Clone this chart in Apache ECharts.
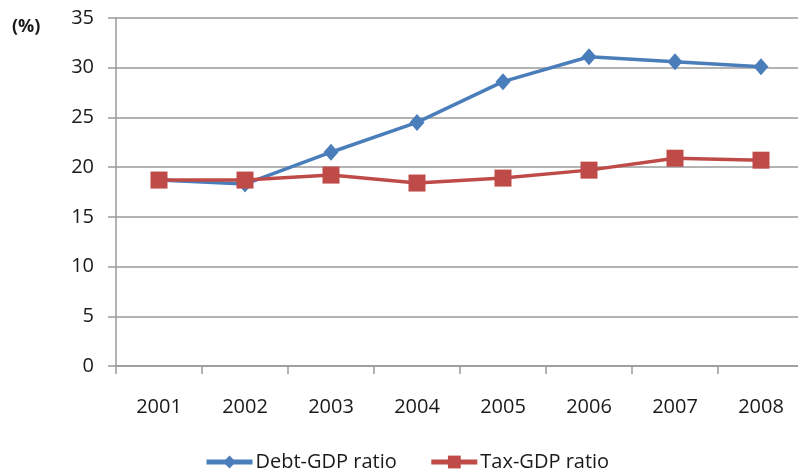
<!DOCTYPE html>
<html>
<head>
<meta charset="utf-8">
<style>
  html, body { margin: 0; padding: 0; background: #fff; }
  #chart { width: 798px; height: 476px; }
</style>
<script src="https://cdn.jsdelivr.net/npm/echarts@6/dist/echarts.min.js"></script>
</head>
<body>
<div id="chart"></div>
<script>
// Years on the horizontal axis
var years = ['2001', '2002', '2003', '2004', '2005', '2006', '2007', '2008'];
// Ratios in percent of GDP
var debtGdp = [18.7, 18.3, 21.5, 24.5, 28.6, 31.1, 30.6, 30.1];
var taxGdp = [18.7, 18.7, 19.2, 18.4, 18.9, 19.7, 20.9, 20.7];

var FONT = '"Open Sans", "DejaVu Sans", sans-serif';
var TEXT = '#1a1a1a';
var AXIS_GRAY = '#9a9a9a';
var BLUE = '#4a7ebb';
var RED = '#be4b48';

var chart = echarts.init(document.getElementById('chart'), null, { renderer: 'canvas' });
chart.setOption({
  animation: false,
  backgroundColor: '#ffffff',
  // plot area runs slightly past the right edge of the canvas
  grid: { left: 116, width: 688, top: 18, bottom: 110, outerBoundsMode: 'none' },
  graphic: [{
    type: 'text', left: 12, top: 18,
    style: { text: '(%)', font: 'bold 18px ' + FONT, fill: TEXT }
  }],
  legend: {
    bottom: -1,
    left: 199,
    itemWidth: 46,
    itemHeight: 16,
    itemGap: 32,
    lineStyle: { width: 5 },
    textStyle: { fontFamily: FONT, fontSize: 20, color: TEXT, padding: [0, 0, 0, -2] },
    data: ['Debt-GDP ratio', 'Tax-GDP ratio']
  },
  xAxis: {
    type: 'category',
    data: years,
    boundaryGap: true,
    axisLine: { lineStyle: { color: AXIS_GRAY, width: 1.5 } },
    axisTick: { show: true, length: 8, lineStyle: { color: AXIS_GRAY, width: 1.5 } },
    axisLabel: { margin: 31, fontFamily: FONT, fontSize: 20, color: TEXT },
    splitLine: { show: false }
  },
  yAxis: {
    type: 'value',
    min: 0, max: 35, interval: 5,
    axisLine: { show: true, lineStyle: { color: AXIS_GRAY, width: 1.5 } },
    axisTick: { show: true, length: 8, lineStyle: { color: AXIS_GRAY, width: 1.5 } },
    axisLabel: { margin: 22, fontFamily: FONT, fontSize: 20, color: TEXT },
    splitLine: { show: true, lineStyle: { color: AXIS_GRAY, width: 1.5 } }
  },
  series: [
    {
      name: 'Debt-GDP ratio',
      type: 'line',
      data: debtGdp,
      symbol: 'diamond',
      symbolSize: [15, 17],
      lineStyle: { color: BLUE, width: 3.5 },
      itemStyle: { color: BLUE },
      z: 2
    },
    {
      name: 'Tax-GDP ratio',
      type: 'line',
      data: taxGdp,
      symbol: 'rect',
      symbolSize: 17,
      lineStyle: { color: RED, width: 3.5 },
      itemStyle: { color: RED },
      z: 3
    }
  ]
});
</script>
</body>
</html>
